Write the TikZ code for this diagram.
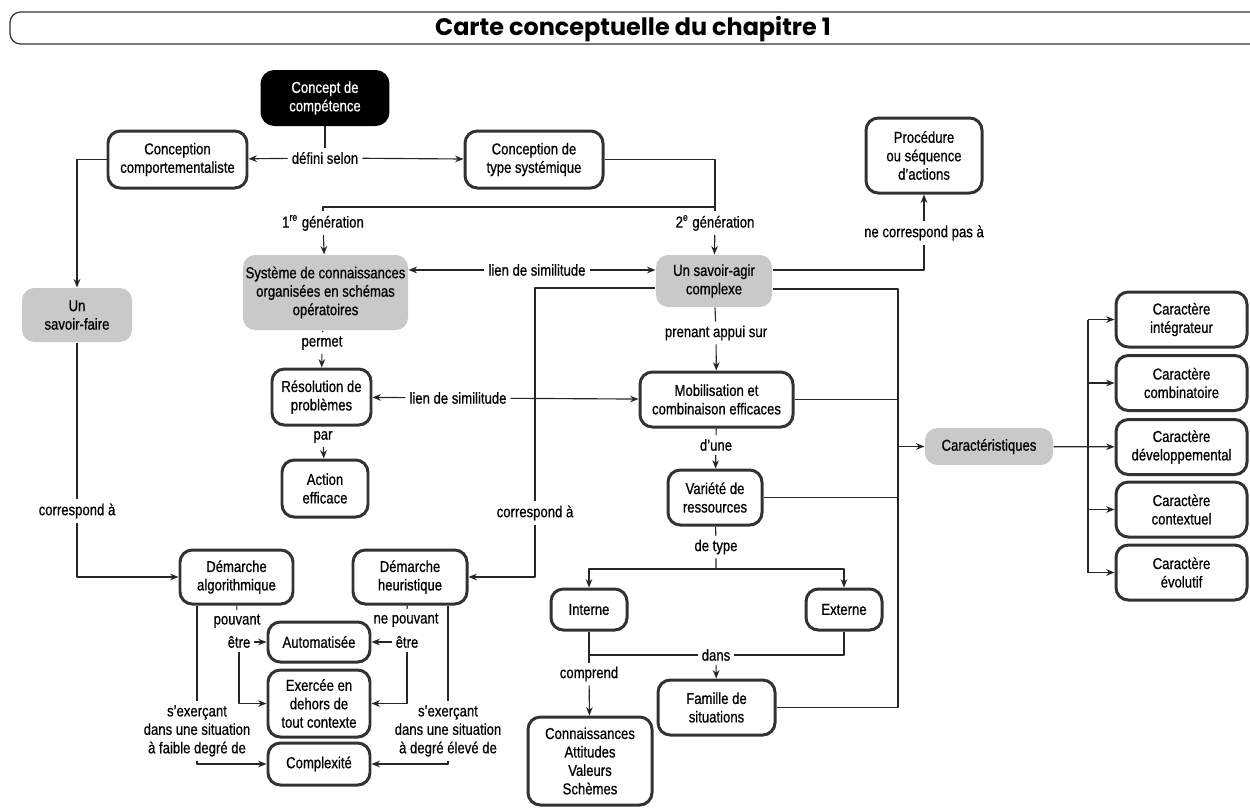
\documentclass[tikz,border=0pt]{standalone}
\usepackage{fontspec}
\setmainfont{Liberation Sans}[FakeStretch=0.83, FakeBold=0.7]
\newfontfamily\titlefont{Poppins}
\usetikzlibrary{arrows.meta}
\definecolor{boxgray}{RGB}{201,201,201}
\definecolor{edgegray}{RGB}{50,50,50}
\tikzset{
	box/.style={draw=edgegray, line width=1.7pt, rounded corners=7pt, align=center, inner sep=1pt},
	gbox/.style={fill=boxgray, rounded corners=7pt, align=center, inner sep=1pt},
	lab/.style={inner sep=2pt, align=center},
	sz/.style 2 args={minimum width=#1*0.02cm, minimum height=#2*0.02cm},
}
\begin{document}
\begin{tikzpicture}[>={Stealth[length=4.8pt,width=3.8pt]}, line join=round, font=\fontsize{9}{10.5}\selectfont, x=0.02cm, y=-0.02cm, line width=0.65pt, draw=black!85]
	\useasboundingbox (0,0) rectangle (1250,809);
	\draw[edgegray, line width=0.7pt, rounded corners=6pt] (1262,12)--(10,12)--(10,44)--(1262,44);
	\node[inner sep=0pt] (titre) at (633,29) {\titlefont\bfseries\fontsize{13.6}{15}\selectfont Carte conceptuelle du chapitre 1};

	\node[box, fill=black, draw=black, text=white, sz={126}{53}] (concept) at (325,98) {Concept de\\compétence};
	\node[box, sz={139}{57}] (comport) at (177.5,159.5) {Conception\\comportementaliste};
	\node[box, sz={138}{57}] (syst) at (534,159.5) {Conception de\\type systémique};
	\node[box, sz={116}{75}] (proc) at (924,155.5) {Procédure\\ou séquence\\d’actions};
	\node[gbox, sz={165}{75}] (systeme) at (325.5,292.5) {Système de connaissances\\organisées en schémas\\opératoires};
	\node[gbox, sz={116}{52}] (agir) at (714,281) {Un savoir-agir\\complexe};
	\node[gbox, sz={110}{54}] (sfaire) at (77,315) {Un\\savoir-faire};
	\node[box, sz={99}{56}] (resol) at (321.5,397) {Résolution de\\problèmes};
	\node[box, sz={86}{57}] (action) at (325,488.5) {Action\\efficace};
	\node[box, sz={153}{55}] (mobil) at (716.5,399.5) {Mobilisation et\\combinaison efficaces};
	\node[box, sz={94}{55}] (variete) at (715,497.5) {Variété de\\ressources};
	\node[box, sz={76}{41}] (interne) at (589,609.5) {Interne};
	\node[box, sz={76}{41}] (externe) at (844,609.5) {Externe};
	\node[box, sz={117}{55}] (famille) at (716.5,707.5) {Famille de\\situations};
	\node[box, sz={124}{88}] (connais) at (590,761) {Connaissances\\Attitudes\\Valeurs\\Schèmes};
	\node[gbox, sz={128}{37}] (caract) at (989,446.5) {Caractéristiques};
	\node[box, sz={131}{55}] (car1) at (1181.5,319.5) {Caractère\\intégrateur};
	\node[box, sz={131}{55}] (car2) at (1181.5,383) {Caractère\\combinatoire};
	\node[box, sz={131}{55}] (car3) at (1181.5,447) {Caractère\\développemental};
	\node[box, sz={131}{55}] (car4) at (1181.5,509.5) {Caractère\\contextuel};
	\node[box, sz={131}{55}] (car5) at (1181.5,572.5) {Caractère\\évolutif};
	\node[box, sz={113}{54}] (algo) at (236.5,577) {Démarche\\algorithmique};
	\node[box, sz={114}{54}] (heur) at (410,577) {Démarche\\heuristique};
	\node[box, sz={102}{40}] (auto) at (319,642) {Automatisée};
	\node[box, sz={102}{67}] (exerc) at (319,703.5) {Exercée en\\dehors de\\tout contexte};
	\node[box, sz={102}{42}] (complex) at (319,764) {Complexité};

	\node[lab] (ldef) at (325,158) {défini selon};
	\node[lab] (lgen1) at (323,223) {1\textsuperscript{re} génération};
	\node[lab] (lgen2) at (715,223) {2\textsuperscript{e} génération};
	\node[lab] (lsim1) at (537,270) {lien de similitude};
	\node[lab] (lnecorr) at (924,233) {ne correspond pas à};
	\node[lab] (lpermet) at (322,343) {permet};
	\node[lab] (lsim2) at (458,398) {lien de similitude};
	\node[lab] (lpar) at (323,437) {par};
	\node[lab] (lappui) at (716,333) {prenant appui sur};
	\node[lab] (lune) at (716,445) {d’une};
	\node[lab] (ltype) at (716,547) {de type};
	\node[lab] (ldans) at (716,655) {dans};
	\node[lab] (lcompr) at (589,674) {comprend};
	\node[lab] (lcorr1) at (77,511) {correspond à};
	\node[lab] (lcorr2) at (535,513) {correspond à};
	\node[lab] (lpv) at (237,621) {pouvant};
	\node[lab] (letre) at (239,642) {être};
	\node[lab] (lnepv) at (406,620) {ne pouvant};
	\node[lab] (lnetre) at (407,642) {être};
	\node[lab] (lsex1) at (197,731) {s’exerçant\\dans une situation\\à faible degré de};
	\node[lab] (lsex2) at (448,731) {s’exerçant\\dans une situation\\à degré élevé de};

	\coordinate (jgen) at (715,207);
	\coordinate (pc) at (924,270);
	\coordinate (cc) at (535,288);
	\coordinate (bus1) at (898,289);
	\coordinate (bus2) at (898,707.5);
	\coordinate (jt) at (716,569);
	\coordinate (jd) at (589,655);
	\coordinate (kb) at (1088,447);

	\draw (concept)--(ldef);
	\draw[->] (ldef)--(comport);
	\draw[->] (ldef)--(syst);
	\draw (syst)-|(jgen)--(lgen2);
	\draw (jgen)-|(lgen1);
	\draw[->] (lgen1)--(systeme);
	\draw[->] (lgen2)--(agir);
	\draw[->] (lsim1)--(systeme.east|-lsim1);
	\draw[->] (lsim1)--(agir.west|-lsim1);
	\draw (agir.east|-pc)--(pc)--(lnecorr);
	\draw[->] (lnecorr)--(proc);
	\draw (agir.east|-bus1)--(bus1)--(bus2)--(famille.east|-bus2);
	\draw (mobil)--(mobil-|bus1);
	\draw (variete)--(variete-|bus1);
	\draw[->] (caract-|bus1)--(caract);
	\draw[->] (caract)--(car3);
	\draw (kb|-car1)--(kb|-car5);
	\foreach \c in {car1,car2,car4,car5} \draw[->] (kb|-\c)--(\c);
	\draw[->] (comport)-|(sfaire);
	\draw (sfaire)--(lcorr1);
	\draw[->] (lcorr1)|-(algo);
	\draw (agir.west|-cc)-|(lcorr2);
	\draw[->] (lcorr2)|-(heur);
	\draw (systeme)--(lpermet);
	\draw[->] (lpermet)--(resol);
	\draw (resol)--(lpar);
	\draw[->] (lpar)--(action);
	\draw[->] (lsim2)--(resol);
	\draw[->] (lsim2)--(mobil);
	\draw (agir)--(lappui);
	\draw[->] (lappui)--(mobil);
	\draw (mobil)--(lune);
	\draw[->] (lune)--(variete);
	\draw (variete)--(ltype)--(jt);
	\draw[->] (jt)-|(interne);
	\draw[->] (jt)-|(externe);
	\draw (interne)--(lcompr);
	\draw (jd)--(ldans);
	\draw (externe)|-(ldans);
	\draw[->] (ldans)--(famille);
	\draw[->] (lcompr)--(connais);
	\draw (algo)--(lpv);
	\draw[->] (letre)--(auto);
	\draw[->] (letre)|-(exerc);
	\draw (heur)--(lnepv);
	\draw[->] (lnetre)--(auto);
	\draw[->] (lnetre)|-(exerc);
	\draw (algo.south-|lsex1)--(lsex1);
	\draw[->] (lsex1)|-(complex);
	\draw (heur.south-|lsex2)--(lsex2);
	\draw[->] (lsex2)|-(complex);
\end{tikzpicture}
\end{document}
